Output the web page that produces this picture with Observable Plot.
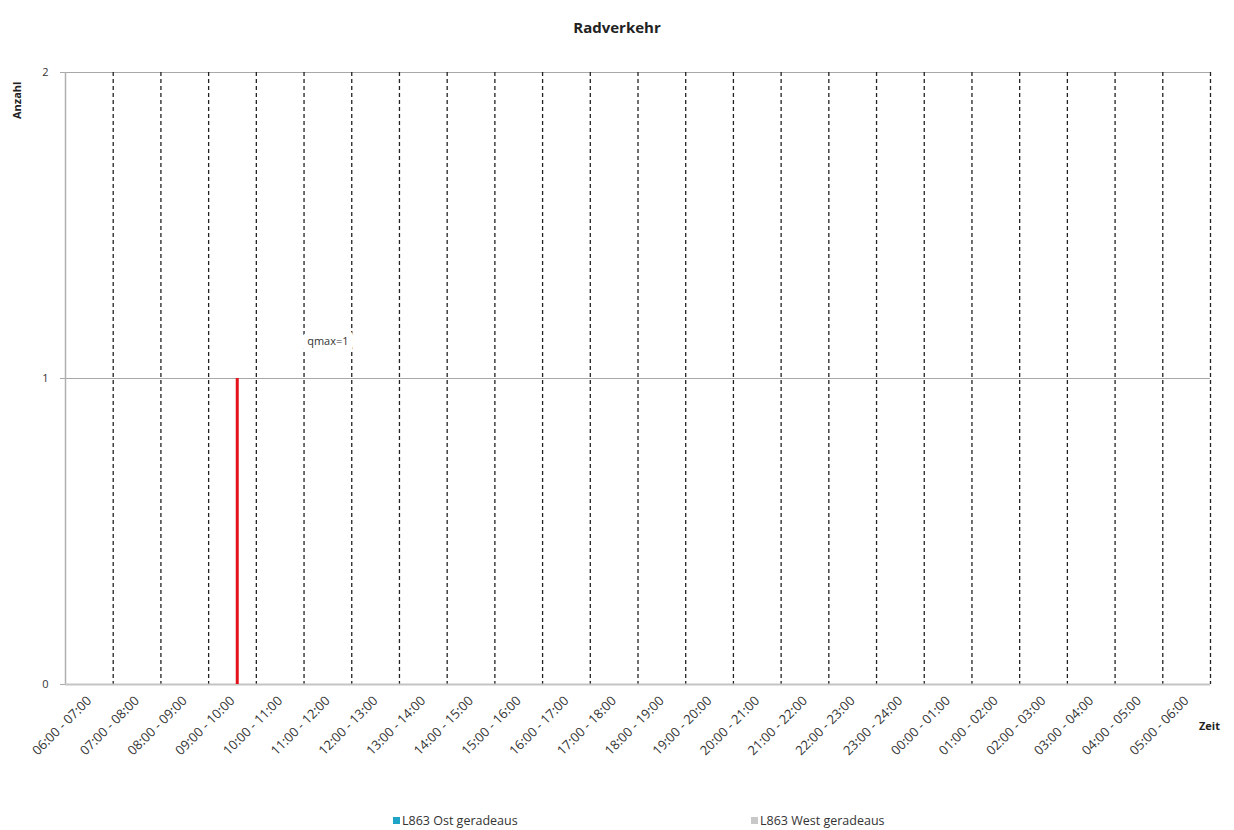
<!DOCTYPE html>
<html>
<head>
<meta charset="utf-8">
<script src="https://cdn.jsdelivr.net/npm/d3@7"></script>
<script src="https://cdn.jsdelivr.net/npm/@observablehq/plot@0.6"></script>
<style>
  body { margin: 0; background: #fff; font-family: "Open Sans", "Noto Sans", sans-serif; }
  #wrap { position: relative; width: 1234px; height: 830px; }
  #title { position: absolute; left: 0; width: 1234px; top: 17px; text-align: center; font-size: 15px; font-weight: bold; color: #222; }
  #ylab { position: absolute; left: 9px; top: 119px; font-size: 11px; font-weight: bold; color: #222; transform: rotate(-90deg); transform-origin: left top; }
  #xlab { position: absolute; left: 1199px; top: 718px; font-size: 11px; font-weight: bold; color: #222; }
  #legend { position: absolute; top: 812px; left: 0; width: 1234px; font-size: 12.5px; color: #333; }
  .li { position: absolute; display: flex; align-items: center; gap: 2px; }
  .sw { width: 7px; height: 7px; display: inline-block; }
</style>
</head>
<body>
<div id="wrap">
  <div id="title"></div>
  <div id="ylab"></div>
  <div id="xlab"></div>
  <div id="chart"></div>
  <div id="legend"></div>
</div>
<script>
const title = "Radverkehr";
const yTitle = "Anzahl";
const xTitle = "Zeit";
const timeSlots = [
  "06:00 - 07:00","07:00 - 08:00","08:00 - 09:00","09:00 - 10:00","10:00 - 11:00","11:00 - 12:00",
  "12:00 - 13:00","13:00 - 14:00","14:00 - 15:00","15:00 - 16:00","16:00 - 17:00","17:00 - 18:00",
  "18:00 - 19:00","19:00 - 20:00","20:00 - 21:00","21:00 - 22:00","22:00 - 23:00","23:00 - 24:00",
  "00:00 - 01:00","01:00 - 02:00","02:00 - 03:00","03:00 - 04:00","04:00 - 05:00","05:00 - 06:00"
];
const yTicks = [0, 1, 2];
const seriesNames = ["L863 Ost geradeaus", "L863 West geradeaus"];
const seriesColors = ["#1fa3c6", "#c8c8c8"];
// qmax marker: slot and value
const qmaxSlot = "09:00 - 10:00";
const qmaxValue = 1;
const qmaxLabel = "qmax=1";
const qmaxLabelSlot = "11:00 - 12:00";
const qmaxLabelY = 1.12;

const n = timeSlots.length;
const boundaries = d3.range(1, n + 1);
const centers = d3.range(n).map(i => i + 0.5);
const qIdx = timeSlots.indexOf(qmaxSlot);
const lIdx = timeSlots.indexOf(qmaxLabelSlot);

document.getElementById("title").textContent = title;
document.getElementById("ylab").textContent = yTitle;
document.getElementById("xlab").textContent = xTitle;

const chart = Plot.plot({
  width: 1234,
  height: 830,
  marginLeft: 65,
  marginRight: 24,
  marginTop: 72,
  marginBottom: 146,
  style: { fontFamily: "'Open Sans', 'Noto Sans', sans-serif", fontSize: "11px", color: "#333", background: "white" },
  x: { type: "linear", domain: [0, n] },
  y: { domain: [0, 2] },
  marks: [
    Plot.ruleY([1, 2], { stroke: "#a8a8a8", strokeWidth: 1.2 }),
    Plot.ruleX(boundaries, { stroke: "#222", strokeWidth: 1.3, strokeDasharray: "4,3" }),
    Plot.ruleX([0], { stroke: "#b0b0b0", strokeWidth: 1.5 }),
    Plot.ruleY([0], { stroke: "#c4c4c4", strokeWidth: 2 }),
    Plot.ruleX([{ x: qIdx + 0.6, y: qmaxValue }], { x: "x", y1: 0, y2: "y", stroke: "#e3121b", strokeWidth: 3 }),
    Plot.text([{ x: lIdx + 0.5, y: qmaxLabelY, t: qmaxLabel }], {
      x: "x", y: "y", text: "t", fontSize: 11, fill: "#333",
      stroke: "white", strokeWidth: 14, paintOrder: "stroke"
    }),
    Plot.axisY({ ticks: yTicks, tickFormat: d => String(d), tickSize: 5, tickPadding: 12, stroke: "#aaa", label: null, fontSize: 11 }),
    Plot.axisX({
      ticks: centers, tickFormat: d => timeSlots[Math.floor(d)], tickSize: 0, tickPadding: 14,
      tickRotate: -45, label: null, fontSize: 13, fill: "#333"
    })
  ]
});
document.getElementById("chart").appendChild(chart);

const legend = document.getElementById("legend");
const legendX = [393, 751];
seriesNames.forEach((name, i) => {
  const el = document.createElement("div");
  el.className = "li";
  el.style.left = legendX[i] + "px";
  const sw = document.createElement("span");
  sw.className = "sw";
  sw.style.background = seriesColors[i];
  const tx = document.createElement("span");
  tx.textContent = name;
  el.appendChild(sw);
  el.appendChild(tx);
  legend.appendChild(el);
});
</script>
</body>
</html>
